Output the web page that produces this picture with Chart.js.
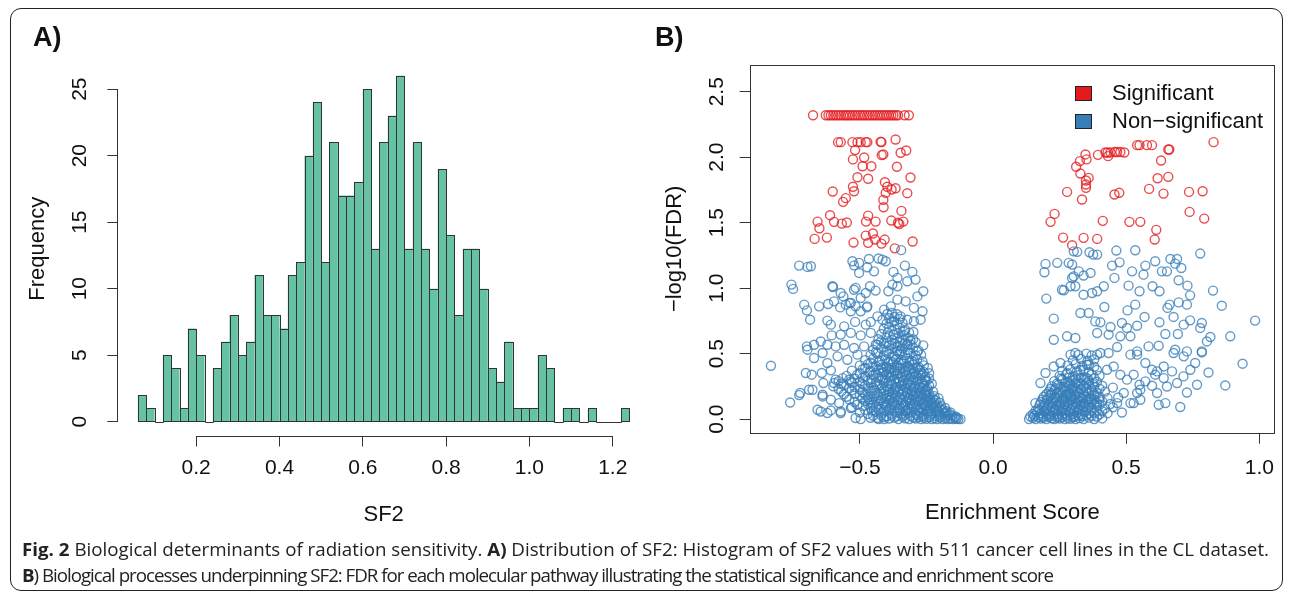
<!DOCTYPE html>
<html><head><meta charset="utf-8">
<script src="https://cdn.jsdelivr.net/npm/chart.js@4.4.1/dist/chart.umd.min.js"></script>
<style>
html,body{margin:0;padding:0;background:#fff;}
body{width:1290px;height:597px;position:relative;overflow:hidden;font-family:"Liberation Sans",Arial,sans-serif;}
#frame{position:absolute;left:10px;top:8px;width:1273px;height:583px;border:1.5px solid #222;border-radius:11px;box-sizing:border-box;}
canvas{position:absolute;top:0;}
#cA{left:0;} #cB{left:660px;}
.plabel{position:absolute;font-weight:bold;font-size:27px;line-height:27px;color:#111;top:24px;}
.leg{position:absolute;font-size:22px;line-height:22px;color:#111;left:1112px;}
.sq{position:absolute;left:1075px;width:17px;height:15px;box-sizing:border-box;border:1px solid #222;}
.cap{position:absolute;left:22px;font-family:"Open Sans",sans-serif;font-size:18px;line-height:20px;white-space:nowrap;transform-origin:0 50%;color:#222;}
</style></head>
<body>
<div id="frame"></div>
<canvas id="cA" width="660" height="597"></canvas>
<canvas id="cB" width="630" height="597"></canvas>
<div class="plabel" style="left:33px">A)</div>
<div class="plabel" style="left:655px">B)</div>
<div class="sq" style="top:86px;background:#E41A1C"></div>
<div class="leg" style="top:82px">Significant</div>
<div class="sq" style="top:114px;background:#377EB8"></div>
<div class="leg" style="top:110px">Non&#8722;significant</div>
<div class="cap" id="cap1" style="top:539px"><b>Fig. 2</b> Biological determinants of radiation sensitivity. <b>A)</b> Distribution of SF2: Histogram of SF2 values with 511 cancer cell lines in the CL dataset.</div>
<div class="cap" id="cap2" style="top:565px"><b>B</b>) Biological processes underpinning SF2: FDR for each molecular pathway illustrating the statistical significance and enrichment score</div>
<script>
// ---------- Histogram (panel A) ----------
const histBinWidth = 0.02;
const histBins = [0.06,0.08,0.10,0.12,0.14,0.16,0.18,0.20,0.22,0.24,0.26,0.28,0.30,0.32,0.34,0.36,0.38,0.40,0.42,0.44,0.46,0.48,0.50,0.52,0.54,0.56,0.58,0.60,0.62,0.64,0.66,0.68,0.70,0.72,0.74,0.76,0.78,0.80,0.82,0.84,0.86,0.88,0.90,0.92,0.94,0.96,0.98,1.00,1.02,1.04,1.06,1.08,1.10,1.12,1.14,1.16,1.18,1.20,1.22];
const histCounts = [2,1,0,5,4,1,7,5,0,4,6,8,5,6,11,8,8,7,11,12,20,24,12,21,17,17,18,25,13,21,23,26,13,21,13,10,19,14,8,13,13,10,4,3,6,1,1,1,5,4,0,1,1,0,1,0,0,0,1];
const histXTicks = [0.2,0.4,0.6,0.8,1.0,1.2];
const histXLabels = ['0.2','0.4','0.6','0.8','1.0','1.2'];
const histYTicks = [0,5,10,15,20,25];
const histYLabels = ['0','5','10','15','20','25'];

// ---------- Scatter (panel B) ----------
const sigPoints = [
[-0.676,2.32],[-0.628,2.32],[-0.618,2.32],[-0.609,2.32],[-0.600,2.32],[-0.590,2.32],[-0.581,2.32],[-0.572,2.32],[-0.562,2.32],[-0.553,2.32],[-0.545,2.32],[-0.537,2.32],[-0.527,2.32],[-0.518,2.32],[-0.508,2.32],[-0.499,2.32],[-0.490,2.32],[-0.482,2.32],[-0.472,2.32],[-0.463,2.32],[-0.453,2.32],[-0.444,2.32],[-0.435,2.32],[-0.426,2.32],[-0.417,2.32],[-0.409,2.32],[-0.400,2.32],[-0.391,2.32],[-0.382,2.32],[-0.374,2.32],[-0.365,2.32],[-0.357,2.32],[-0.332,2.32],[-0.316,2.32],
[-0.582,2.115],[-0.572,2.115],[-0.528,2.115],[-0.509,2.115],[-0.497,2.115],[-0.478,2.115],[-0.472,2.115],[-0.419,2.115],[-0.422,2.118],[-0.366,2.135],
[-0.518,2.054],[-0.526,1.983],[-0.484,1.998],[-0.412,2.021],[-0.418,2.016],[-0.347,2.034],[-0.326,2.051],[-0.490,1.931],[-0.457,1.931],[-0.361,1.927],[-0.509,1.847],[-0.469,1.835],[-0.310,1.845],[-0.602,1.738],[-0.526,1.774],[-0.522,1.740],[-0.406,1.809],[-0.397,1.774],[-0.381,1.753],[-0.366,1.763],[-0.403,1.728],[-0.322,1.725],[-0.553,1.687],[-0.563,1.659],[-0.412,1.674],[-0.411,1.618],[-0.344,1.590],[-0.612,1.557],[-0.659,1.508],[-0.652,1.457],[-0.597,1.506],[-0.568,1.493],[-0.549,1.501],[-0.469,1.554],[-0.477,1.508],[-0.441,1.508],[-0.382,1.516],[-0.357,1.499],[-0.337,1.508],[-0.352,1.49],[-0.670,1.376],[-0.624,1.386],[-0.524,1.348],[-0.478,1.401],[-0.469,1.346],[-0.451,1.417],[-0.443,1.371],[-0.419,1.340],[-0.407,1.371],[-0.369,1.304],[-0.302,1.356],
[0.828,2.115],[0.541,2.092],[0.550,2.092],[0.578,2.092],[0.597,2.092],[0.658,2.059],[0.662,2.059],[0.422,2.036],[0.430,2.036],[0.441,2.036],[0.457,2.040],[0.466,2.040],[0.478,2.040],[0.493,2.036],[0.394,2.018],[0.432,2.008],[0.347,2.021],[0.351,1.983],[0.326,1.970],[0.312,1.927],[0.328,1.875],[0.359,1.842],[0.349,1.822],[0.349,1.791],[0.349,1.766],[0.278,1.735],[0.334,1.677],[0.456,1.715],[0.474,1.728],[0.586,1.758],[0.640,1.722],[0.631,1.975],[0.618,1.839],[0.658,1.850],[0.736,1.735],[0.787,1.740],[0.231,1.567],[0.216,1.506],[0.412,1.514],[0.512,1.506],[0.553,1.506],[0.738,1.582],[0.793,1.531],[0.613,1.445],[0.607,1.371],[0.263,1.386],[0.340,1.384],[0.391,1.376],[0.297,1.328]
];
const nonLeftSparse = [
[-0.728,1.172],[-0.697,1.162],[-0.684,1.167],[-0.757,1.027],[-0.751,0.994],[-0.601,1.009],[-0.528,1.205],[-0.522,1.174],[-0.503,1.193],[-0.466,1.223],[-0.430,1.226],[-0.415,1.218],[-0.403,1.205],[-0.503,1.116],[-0.472,1.159],[-0.447,1.128],[-0.374,1.124],[-0.331,1.172],[-0.303,1.124],[-0.359,1.078],[-0.378,1.027],[-0.291,1.065],[-0.359,1.014],[-0.393,0.976],[-0.322,1.052],[-0.516,1.002],[-0.462,1.014],[-0.441,0.981],[-0.262,0.976],[-0.284,0.937],[-0.562,0.937],[-0.534,0.887],[-0.497,0.925],[-0.478,0.963],[-0.709,0.874],[-0.699,0.830],[-0.687,0.759],[-0.619,0.879],[-0.597,0.899],[-0.574,0.853],[-0.553,0.874],[-0.539,0.887],[-0.534,0.823],[-0.497,0.823],[-0.474,0.853],[-0.359,0.912],[-0.328,0.899],[-0.297,0.849],[-0.265,0.823],[-0.384,0.861],[-0.409,0.836],[-0.622,0.752],[-0.609,0.721],[-0.559,0.708],[-0.518,0.742],[-0.478,0.721],[-0.459,0.742],[-0.434,0.784],[-0.415,0.759],[-0.397,0.803],[-0.372,0.747],[-0.347,0.784],[-0.322,0.759],[-0.297,0.747],[-0.272,0.759],[-0.606,0.639],[-0.572,0.645],[-0.534,0.658],[-0.497,0.639],[-0.459,0.658],[-0.372,0.645],[-0.334,0.670],[-0.299,0.665],[-0.262,0.563],[-0.699,0.555],[-0.672,0.568],[-0.647,0.593],[-0.622,0.568],[-0.591,0.555],[-0.559,0.568],[-0.522,0.543],[-0.484,0.555],[-0.434,0.568],[-0.397,0.581],[-0.359,0.555],[-0.322,0.568],[-0.284,0.517],[-0.347,0.517],[-0.345,1.29],
[-0.834,0.407],[-0.672,0.466],[-0.640,0.505],[-0.622,0.428],[-0.584,0.479],[-0.547,0.453],[-0.509,0.492],[-0.681,0.339],[-0.643,0.352],[-0.609,0.372],[-0.637,0.275],[-0.591,0.301],[-0.565,0.313],[-0.534,0.287],[-0.724,0.199],[-0.728,0.183],[-0.762,0.127],[-0.678,0.224],[-0.640,0.186],[-0.609,0.148],[-0.578,0.122],[-0.647,0.058],[-0.609,0.066],[-0.572,0.046],[-0.534,0.084],[-0.516,0.008],[-0.497,0.0],[-0.434,0.008],[-0.409,0.0],
[-0.697,0.530],[-0.703,0.352],[-0.691,0.224],[-0.659,0.071],[-0.640,0.173],[-0.622,0.046],[-0.597,0.275],[-0.572,0.058],[-0.653,0.861],[-0.603,1.014],[-0.572,0.963],[-0.522,0.988],[-0.516,0.861],[-0.472,0.861]
];
const nonLeftCore = [
[-0.46,0.01],[-0.43,0.0],[-0.41,0.015],[-0.39,0.004],[-0.37,0.012],[-0.355,0.0],[-0.34,0.018],[-0.33,0.006],[-0.315,0.0],[-0.30,0.012],[-0.29,0.004],[-0.28,0.016],[-0.27,0.0],[-0.26,0.009],[-0.25,0.002],[-0.24,0.014],[-0.23,0.0],[-0.22,0.007],[-0.21,0.0],[-0.20,0.011],[-0.19,0.0],[-0.18,0.005],[-0.17,0.0],[-0.16,0.004],[-0.15,0.0],[-0.14,0.002],[-0.13,0.0],[-0.122,0.0],
[-0.50,0.05],[-0.47,0.04],[-0.44,0.055],[-0.42,0.045],[-0.40,0.06],[-0.38,0.04],[-0.36,0.052],[-0.345,0.038],[-0.33,0.06],[-0.32,0.045],[-0.305,0.055],[-0.29,0.04],[-0.275,0.05],[-0.26,0.035],[-0.245,0.055],[-0.23,0.042],[-0.215,0.05],[-0.20,0.036],[-0.185,0.045],[-0.17,0.03],[-0.155,0.028],[-0.14,0.02],
[-0.53,0.09],[-0.49,0.1],[-0.46,0.085],[-0.44,0.095],[-0.42,0.08],[-0.40,0.1],[-0.385,0.09],[-0.37,0.105],[-0.35,0.085],[-0.335,0.095],[-0.32,0.08],[-0.305,0.1],[-0.29,0.09],[-0.27,0.085],[-0.255,0.1],[-0.24,0.08],[-0.225,0.09],[-0.21,0.075],[-0.19,0.07],[-0.175,0.06],[-0.16,0.05],
[-0.52,0.13],[-0.48,0.14],[-0.455,0.125],[-0.43,0.135],[-0.41,0.12],[-0.39,0.14],[-0.375,0.13],[-0.36,0.145],[-0.34,0.125],[-0.325,0.135],[-0.31,0.12],[-0.295,0.14],[-0.28,0.13],[-0.26,0.125],[-0.245,0.135],[-0.23,0.115],[-0.21,0.105],[-0.195,0.1],[-0.18,0.085],
[-0.55,0.17],[-0.50,0.18],[-0.47,0.165],[-0.445,0.175],[-0.42,0.16],[-0.40,0.18],[-0.38,0.17],[-0.365,0.185],[-0.35,0.165],[-0.33,0.175],[-0.315,0.16],[-0.30,0.18],[-0.28,0.17],[-0.265,0.16],[-0.25,0.175],[-0.235,0.15],[-0.215,0.14],[-0.20,0.125],
[-0.57,0.21],[-0.53,0.22],[-0.49,0.205],[-0.46,0.215],[-0.435,0.2],[-0.41,0.22],[-0.39,0.21],[-0.37,0.225],[-0.355,0.205],[-0.34,0.215],[-0.32,0.2],[-0.305,0.22],[-0.29,0.21],[-0.27,0.2],[-0.255,0.215],[-0.24,0.19],[-0.22,0.175],[-0.205,0.16],
[-0.60,0.25],[-0.56,0.26],[-0.52,0.245],[-0.48,0.255],[-0.45,0.24],[-0.425,0.26],[-0.40,0.25],[-0.38,0.265],[-0.36,0.245],[-0.345,0.255],[-0.33,0.24],[-0.31,0.26],[-0.295,0.25],[-0.275,0.24],[-0.26,0.255],[-0.245,0.23],[-0.225,0.21],
[-0.58,0.29],[-0.54,0.3],[-0.50,0.285],[-0.47,0.295],[-0.44,0.28],[-0.415,0.3],[-0.39,0.29],[-0.37,0.305],[-0.35,0.285],[-0.335,0.295],[-0.32,0.28],[-0.30,0.3],[-0.285,0.29],[-0.265,0.28],[-0.25,0.295],[-0.23,0.27],
[-0.55,0.33],[-0.51,0.34],[-0.48,0.325],[-0.45,0.335],[-0.42,0.32],[-0.40,0.34],[-0.38,0.33],[-0.36,0.345],[-0.345,0.325],[-0.325,0.335],[-0.31,0.32],[-0.29,0.34],[-0.27,0.33],[-0.255,0.32],[-0.24,0.31],
[-0.53,0.37],[-0.49,0.38],[-0.46,0.365],[-0.43,0.375],[-0.41,0.36],[-0.39,0.38],[-0.37,0.37],[-0.35,0.385],[-0.33,0.365],[-0.315,0.375],[-0.295,0.36],[-0.275,0.375],[-0.26,0.36],[-0.24,0.35],
[-0.50,0.41],[-0.47,0.42],[-0.44,0.405],[-0.42,0.415],[-0.40,0.4],[-0.38,0.42],[-0.36,0.41],[-0.34,0.425],[-0.32,0.405],[-0.30,0.415],[-0.28,0.4],[-0.26,0.41],[-0.245,0.39],
[-0.48,0.45],[-0.45,0.46],[-0.425,0.445],[-0.405,0.455],[-0.385,0.44],[-0.365,0.46],[-0.345,0.45],[-0.325,0.465],[-0.305,0.445],[-0.285,0.455],[-0.265,0.44],
[-0.46,0.49],[-0.435,0.5],[-0.41,0.485],[-0.39,0.495],[-0.37,0.48],[-0.35,0.5],[-0.33,0.49],[-0.31,0.505],[-0.29,0.485],[-0.27,0.49],
[-0.45,0.53],[-0.42,0.54],[-0.40,0.525],[-0.38,0.535],[-0.36,0.52],[-0.34,0.54],[-0.32,0.53],[-0.30,0.545],[-0.28,0.525],
[-0.44,0.57],[-0.41,0.58],[-0.39,0.565],[-0.37,0.575],[-0.35,0.56],[-0.33,0.58],[-0.31,0.57],[-0.29,0.585],
[-0.43,0.61],[-0.40,0.62],[-0.38,0.605],[-0.36,0.615],[-0.34,0.6],[-0.32,0.62],[-0.30,0.61],
[-0.42,0.65],[-0.395,0.66],[-0.375,0.645],[-0.355,0.655],[-0.335,0.64],[-0.315,0.66],
[-0.41,0.69],[-0.39,0.7],[-0.37,0.685],[-0.35,0.695],[-0.33,0.68],
[-0.40,0.73],[-0.38,0.74],[-0.36,0.725],[-0.34,0.735],
[-0.39,0.77],[-0.37,0.78],[-0.35,0.765],[-0.38,0.81],[-0.36,0.80]
];
const nonLeftFill = [
[-0.45,0.025],[-0.42,0.028],[-0.40,0.022],[-0.38,0.026],[-0.36,0.024],[-0.335,0.03],[-0.31,0.025],[-0.285,0.028],[-0.265,0.022],[-0.235,0.026],[-0.215,0.024],[-0.195,0.02],[-0.175,0.018],[-0.145,0.012],[-0.135,0.008],
[-0.48,0.07],[-0.455,0.065],[-0.43,0.072],[-0.41,0.068],[-0.39,0.075],[-0.37,0.066],[-0.35,0.07],[-0.325,0.064],[-0.31,0.073],[-0.28,0.068],[-0.265,0.072],[-0.25,0.066],[-0.235,0.062],[-0.205,0.058],[-0.18,0.05],[-0.165,0.04],
[-0.51,0.11],[-0.47,0.115],[-0.45,0.108],[-0.43,0.112],[-0.405,0.11],[-0.38,0.115],[-0.36,0.108],[-0.345,0.112],[-0.33,0.11],[-0.30,0.115],[-0.285,0.108],[-0.265,0.11],[-0.25,0.105],[-0.235,0.1],[-0.215,0.09],[-0.20,0.085],
[-0.54,0.15],[-0.49,0.155],[-0.465,0.148],[-0.44,0.152],[-0.42,0.145],[-0.40,0.155],[-0.385,0.15],[-0.37,0.158],[-0.345,0.148],[-0.32,0.152],[-0.305,0.15],[-0.29,0.155],[-0.27,0.145],[-0.255,0.15],[-0.24,0.14],[-0.22,0.125],
[-0.56,0.19],[-0.52,0.195],[-0.48,0.19],[-0.455,0.195],[-0.43,0.185],[-0.41,0.195],[-0.39,0.19],[-0.375,0.198],[-0.34,0.19],[-0.325,0.195],[-0.31,0.188],[-0.29,0.195],[-0.27,0.185],[-0.255,0.19],[-0.245,0.175],[-0.225,0.16],
[-0.58,0.23],[-0.54,0.235],[-0.50,0.228],[-0.47,0.235],[-0.445,0.225],[-0.42,0.235],[-0.395,0.23],[-0.365,0.238],[-0.35,0.228],[-0.325,0.232],[-0.30,0.235],[-0.28,0.228],[-0.265,0.235],[-0.25,0.22],
[-0.57,0.27],[-0.53,0.275],[-0.49,0.268],[-0.46,0.275],[-0.435,0.265],[-0.41,0.275],[-0.385,0.27],[-0.365,0.278],[-0.34,0.268],[-0.32,0.272],[-0.305,0.275],[-0.28,0.265],[-0.26,0.27],[-0.24,0.255],
[-0.52,0.31],[-0.49,0.315],[-0.455,0.308],[-0.43,0.315],[-0.405,0.31],[-0.385,0.318],[-0.36,0.31],[-0.34,0.315],[-0.315,0.305],[-0.295,0.315],[-0.275,0.308],[-0.255,0.30],
[-0.50,0.35],[-0.465,0.355],[-0.44,0.35],[-0.415,0.355],[-0.39,0.35],[-0.37,0.355],[-0.35,0.348],[-0.33,0.355],[-0.305,0.35],[-0.28,0.35],[-0.265,0.345],
[-0.48,0.39],[-0.45,0.395],[-0.42,0.39],[-0.40,0.392],[-0.38,0.39],[-0.36,0.396],[-0.34,0.39],[-0.32,0.394],[-0.30,0.388],[-0.285,0.39],
[-0.46,0.43],[-0.43,0.435],[-0.395,0.43],[-0.375,0.435],[-0.355,0.43],[-0.335,0.44],[-0.315,0.43],[-0.295,0.435],[-0.44,0.51],[-0.40,0.51],[-0.36,0.515],[-0.32,0.51],[-0.42,0.595],[-0.35,0.59],[-0.31,0.60]
];
const nonRightSparse = [
[0.303,1.281],[0.316,1.277],[0.362,1.274],[0.376,1.256],[0.391,1.256],[0.463,1.287],[0.534,1.289],[0.778,1.264],
[0.197,1.185],[0.193,1.121],[0.241,1.193],[0.297,1.180],[0.322,1.128],[0.340,1.096],[0.366,1.116],[0.447,1.172],[0.475,1.197],[0.522,1.128],[0.565,1.103],[0.572,1.172],[0.609,1.205],[0.634,1.128],[0.653,1.128],[0.666,1.223],[0.691,1.223],[0.684,1.187],[0.707,1.154],
[0.297,1.078],[0.291,1.014],[0.266,0.983],[0.309,1.014],[0.340,0.950],[0.372,0.963],[0.391,0.976],[0.416,1.014],[0.456,1.078],[0.509,1.019],[0.550,0.976],[0.599,1.014],[0.625,0.976],[0.697,1.060],[0.730,1.019],[0.740,0.945],[0.826,0.981],[0.259,0.988],[0.303,1.09],[0.284,1.193],
[0.200,0.920],[0.228,0.767],[0.328,0.810],[0.359,0.810],[0.418,0.856],[0.505,0.830],[0.534,0.874],[0.569,0.780],[0.655,0.849],[0.663,0.874],[0.697,0.891],[0.728,0.874],[0.859,0.866],[0.984,0.752],
[0.384,0.746],[0.403,0.739],[0.441,0.703],[0.484,0.734],[0.503,0.696],[0.541,0.713],[0.625,0.739],[0.678,0.780],[0.716,0.721],[0.740,0.754],[0.784,0.734],[0.778,0.696],[0.694,0.650],[0.647,0.650],[0.816,0.627],[0.891,0.632],
[0.228,0.606],[0.278,0.632],[0.309,0.619],[0.391,0.657],[0.434,0.645],[0.478,0.632],[0.516,0.632],[0.466,0.550],[0.541,0.517],[0.584,0.555],[0.622,0.560],[0.684,0.530],[0.728,0.517],[0.784,0.517],[0.803,0.593],
[0.937,0.423],[0.872,0.257],[0.809,0.356],[0.784,0.509],[0.759,0.428],[0.741,0.377],[0.715,0.326],[0.691,0.275],[0.653,0.249],[0.616,0.199],[0.647,0.122],[0.703,0.092],[0.622,0.109],[0.728,0.203],[0.766,0.262],[0.678,0.505],[0.716,0.479],
[0.672,0.364],[0.641,0.313],[0.609,0.339],[0.597,0.255],[0.572,0.288],[0.550,0.262],[0.541,0.199],[0.516,0.122],[0.484,0.050],
[0.291,0.492],[0.309,0.505],[0.391,0.492],[0.403,0.505],[0.434,0.505],[0.516,0.492],[0.541,0.492],[0.572,0.428],[0.597,0.377],[0.616,0.364],[0.641,0.402],
[0.197,0.352],[0.178,0.275],[0.159,0.122],[0.228,0.402],[0.253,0.428],[0.278,0.352],[0.328,0.377],[0.353,0.415],[0.428,0.377],[0.453,0.402],[0.478,0.339],[0.503,0.301],[0.528,0.339],[0.553,0.224],[0.491,0.199],[0.466,0.122],[0.528,0.122],[0.553,0.148]
];
const nonRightCore = [
[0.135,0.0],[0.15,0.01],[0.16,0.0],[0.17,0.015],[0.18,0.004],[0.19,0.012],[0.20,0.0],[0.21,0.018],[0.22,0.006],[0.23,0.0],[0.24,0.012],[0.25,0.004],[0.26,0.016],[0.27,0.0],[0.28,0.009],[0.29,0.002],[0.30,0.014],[0.31,0.0],[0.325,0.007],[0.34,0.0],[0.36,0.011],[0.38,0.0],[0.41,0.005],
[0.15,0.04],[0.165,0.055],[0.18,0.045],[0.195,0.06],[0.21,0.04],[0.225,0.052],[0.24,0.038],[0.255,0.06],[0.27,0.045],[0.285,0.055],[0.30,0.04],[0.315,0.05],[0.33,0.035],[0.345,0.055],[0.36,0.042],[0.38,0.05],[0.40,0.036],[0.43,0.045],
[0.17,0.08],[0.19,0.1],[0.205,0.085],[0.22,0.095],[0.235,0.08],[0.25,0.1],[0.265,0.09],[0.28,0.105],[0.295,0.085],[0.31,0.095],[0.325,0.08],[0.34,0.1],[0.355,0.09],[0.37,0.085],[0.39,0.1],[0.42,0.08],[0.45,0.09],
[0.18,0.13],[0.20,0.14],[0.22,0.125],[0.235,0.135],[0.25,0.12],[0.265,0.14],[0.28,0.13],[0.295,0.145],[0.31,0.125],[0.325,0.135],[0.34,0.12],[0.355,0.14],[0.37,0.13],[0.39,0.125],[0.41,0.135],[0.44,0.115],
[0.19,0.17],[0.215,0.18],[0.235,0.165],[0.25,0.175],[0.265,0.16],[0.28,0.18],[0.295,0.17],[0.31,0.185],[0.325,0.165],[0.34,0.175],[0.36,0.16],[0.38,0.18],[0.40,0.17],[0.43,0.16],[0.47,0.165],
[0.21,0.21],[0.23,0.22],[0.25,0.205],[0.27,0.215],[0.285,0.2],[0.30,0.22],[0.315,0.21],[0.33,0.225],[0.35,0.205],[0.37,0.215],[0.39,0.2],[0.42,0.21],
[0.22,0.25],[0.245,0.26],[0.265,0.245],[0.285,0.255],[0.30,0.24],[0.32,0.26],[0.34,0.25],[0.36,0.265],[0.38,0.245],[0.41,0.255],[0.45,0.24],
[0.23,0.29],[0.26,0.3],[0.28,0.285],[0.30,0.295],[0.32,0.28],[0.34,0.3],[0.36,0.29],[0.39,0.285],
[0.25,0.33],[0.275,0.34],[0.30,0.325],[0.32,0.335],[0.345,0.32],[0.37,0.34],[0.40,0.33],
[0.26,0.37],[0.29,0.38],[0.315,0.365],[0.34,0.375],[0.36,0.36],[0.39,0.375],
[0.28,0.41],[0.31,0.42],[0.335,0.405],[0.36,0.415],[0.38,0.4],
[0.30,0.45],[0.33,0.46],[0.355,0.445],[0.38,0.455],
[0.32,0.49],[0.35,0.5],[0.37,0.485]
];
const nonRightFill = [
[0.14,0.02],[0.155,0.025],[0.175,0.028],[0.185,0.022],[0.20,0.03],[0.215,0.025],[0.23,0.028],[0.245,0.022],[0.26,0.03],[0.275,0.025],[0.29,0.028],[0.305,0.02],[0.32,0.026],[0.335,0.022],[0.35,0.028],[0.37,0.025],[0.39,0.02],
[0.16,0.065],[0.175,0.07],[0.19,0.062],[0.20,0.072],[0.215,0.066],[0.23,0.072],[0.245,0.065],[0.26,0.074],[0.275,0.066],[0.29,0.07],[0.305,0.064],[0.32,0.072],[0.335,0.066],[0.35,0.07],[0.37,0.062],[0.39,0.068],[0.41,0.06],
[0.175,0.11],[0.195,0.115],[0.21,0.108],[0.225,0.114],[0.24,0.108],[0.255,0.116],[0.27,0.11],[0.285,0.118],[0.30,0.11],[0.315,0.115],[0.33,0.108],[0.345,0.116],[0.36,0.11],[0.38,0.112],[0.40,0.108],
[0.185,0.15],[0.205,0.155],[0.225,0.148],[0.24,0.155],[0.26,0.15],[0.275,0.158],[0.29,0.15],[0.305,0.156],[0.32,0.148],[0.335,0.155],[0.35,0.15],[0.365,0.155],[0.38,0.148],[0.40,0.152],
[0.20,0.19],[0.22,0.195],[0.24,0.19],[0.26,0.196],[0.275,0.19],[0.29,0.195],[0.305,0.19],[0.32,0.198],[0.34,0.19],[0.36,0.195],[0.38,0.19],
[0.215,0.23],[0.235,0.235],[0.255,0.228],[0.275,0.235],[0.295,0.23],[0.31,0.236],[0.33,0.23],[0.35,0.235],[0.37,0.228],[0.40,0.232],
[0.24,0.27],[0.27,0.275],[0.29,0.268],[0.31,0.275],[0.33,0.27],[0.35,0.275],[0.375,0.268],[0.255,0.31],[0.285,0.315],[0.31,0.308],[0.33,0.315],[0.355,0.31],[0.38,0.312]
];
const scatXTicks = [-0.5,0,0.5,1.0];
const scatXLabels = ['\u22120.5','0.0','0.5','1.0'];
const scatYTicks = [0,0.5,1.0,1.5,2.0,2.5];
const scatYLabels = ['0.0','0.5','1.0','1.5','2.0','2.5'];

const FONT = '"Liberation Sans", Arial, sans-serif';
const AX = '#333';
const TXT = '#111';

function setTicks(arr){ return s => { s.ticks = arr.map(v => ({value: v})); }; }

// ---------- Chart A ----------
const histPlugin = {
  id: 'histR',
  afterDatasetsDraw(chart){
    const ctx = chart.ctx, meta = chart.getDatasetMeta(0);
    ctx.save();
    ctx.strokeStyle = '#333'; ctx.lineWidth = 1;
    meta.data.forEach(el => {
      const p = el.getProps(['x','y','base','width'], true);
      const l = Math.round(p.x - p.width/2) + 0.5, r = Math.round(p.x + p.width/2) + 0.5;
      const t = Math.round(p.y) + 0.5, b = Math.round(p.base) + 0.5;
      ctx.strokeRect(l, t, r - l, b - t);
    });
    ctx.restore();
  },
  afterDraw(chart){
    const ctx = chart.ctx, xs = chart.scales.x, ys = chart.scales.y, a = chart.chartArea;
    ctx.save(); ctx.strokeStyle = AX; ctx.lineWidth = 1;
    ctx.beginPath();
    const by = Math.round(a.bottom) + 0.5, lx = Math.round(a.left) - 0.5;
    ctx.moveTo(xs.getPixelForValue(histXTicks[0]), by); ctx.lineTo(xs.getPixelForValue(histXTicks[histXTicks.length-1]), by);
    ctx.moveTo(lx, ys.getPixelForValue(histYTicks[0])); ctx.lineTo(lx, ys.getPixelForValue(histYTicks[histYTicks.length-1]));
    ctx.stroke(); ctx.restore();
  }
};
new Chart(document.getElementById('cA'), {
  type: 'bar',
  data: { datasets: [{
    data: histBins.map((b, i) => ({x: b + histBinWidth/2, y: histCounts[i]})),
    backgroundColor: '#66C2A5', borderWidth: 0, inflateAmount: 0,
    barPercentage: 1, categoryPercentage: 1
  }]},
  options: {
    responsive: false, animation: false, events: [],
    layout: { padding: {left: 0, right: 11, top: 62, bottom: 0} },
    plugins: { legend: {display: false}, tooltip: {enabled: false} },
    scales: {
      x: { type: 'linear', min: 0.013, max: 1.287, offset: false,
        grid: {offset: false, drawOnChartArea: false, drawTicks: true, tickLength: 11, color: AX, tickColor: AX, tickWidth: 1},
        border: {display: false},
        afterBuildTicks: setTicks(histXTicks),
        ticks: {autoSkip: false, maxRotation: 0, minRotation: 0, padding: 9, color: TXT, font: {family: FONT, size: 21},
          callback: (v, i) => histXLabels[i]},
        title: {display: true, text: 'SF2', color: TXT, font: {family: FONT, size: 22}, padding: {top: 0, bottom: 68.8}},
        afterFit: s => { s.height = 161.5; }
      },
      y: { type: 'linear', min: -1.04, max: 27.04,
        grid: {drawOnChartArea: false, drawTicks: true, tickLength: 11, color: AX, tickColor: AX, tickWidth: 1},
        border: {display: false},
        afterBuildTicks: setTicks(histYTicks),
        ticks: {autoSkip: false, minRotation: 90, maxRotation: 90, crossAlign: 'center', padding: 15, color: TXT, font: {family: FONT, size: 21},
          callback: (v, i) => histYLabels[i]},
        title: {display: true, text: 'Frequency', color: TXT, font: {family: FONT, size: 22}, padding: {top: 24.8, bottom: 0}},
        afterFit: s => { s.width = 118.3; }
      }
    }
  },
  plugins: [histPlugin]
});

// ---------- Chart B ----------
const boxPlugin = {
  id: 'boxR',
  afterDraw(chart){
    const ctx = chart.ctx, a = chart.chartArea;
    ctx.save(); ctx.strokeStyle = AX; ctx.lineWidth = 1;
    ctx.strokeRect(Math.round(a.left) - 0.5, Math.round(a.top) + 0.5, Math.round(a.right - a.left) + 1, Math.round(a.bottom - a.top));
    ctx.restore();
  }
};
const toXY = arr => arr.map(p => ({x: p[0], y: p[1]}));
const blueCol = 'rgba(55,126,184,0.78)';
const redCol = 'rgba(228,26,28,0.78)';
new Chart(document.getElementById('cB'), {
  type: 'scatter',
  data: { datasets: [
    {label: 'Non-significant', data: toXY(nonLeftSparse.concat(nonLeftCore, nonLeftFill, nonRightSparse, nonRightCore, nonRightFill)),
      pointRadius: 4.5, pointBorderWidth: 1.4, pointBackgroundColor: 'rgba(0,0,0,0)', pointBorderColor: blueCol},
    {label: 'Significant', data: toXY(sigPoints),
      pointRadius: 4.5, pointBorderWidth: 1.4, pointBackgroundColor: 'rgba(0,0,0,0)', pointBorderColor: redCol}
  ]},
  options: {
    responsive: false, animation: false, events: [],
    layout: { padding: {left: 0, right: 16, top: 65, bottom: 0} },
    plugins: { legend: {display: false}, tooltip: {enabled: false} },
    scales: {
      x: { type: 'linear', min: -0.91, max: 1.055,
        grid: {drawOnChartArea: false, drawTicks: true, tickLength: 11, color: AX, tickColor: AX, tickWidth: 1},
        border: {display: false},
        afterBuildTicks: setTicks(scatXTicks),
        ticks: {autoSkip: false, maxRotation: 0, minRotation: 0, padding: 11.8, color: TXT, font: {family: FONT, size: 21},
          callback: (v, i) => scatXLabels[i]},
        title: {display: true, text: 'Enrichment Score', color: TXT, font: {family: FONT, size: 22}, padding: {top: 0, bottom: 70.8}},
        afterFit: s => { s.height = 164.3; }
      },
      y: { type: 'linear', min: -0.104, max: 2.704,
        grid: {drawOnChartArea: false, drawTicks: true, tickLength: 11, color: AX, tickColor: AX, tickWidth: 1},
        border: {display: false},
        afterBuildTicks: setTicks(scatYTicks),
        ticks: {autoSkip: false, minRotation: 90, maxRotation: 90, crossAlign: 'center', padding: 8.1, color: TXT, font: {family: FONT, size: 21},
          callback: (v, i) => scatYLabels[i]},
        title: {display: true, text: '\u2212log10(FDR)', color: TXT, font: {family: FONT, size: 22}, padding: {top: 1.8, bottom: 0}},
        afterFit: s => { s.width = 90.7; }
      }
    }
  },
  plugins: [boxPlugin]
});

// ---------- caption width fit: same glyph scale on both lines, spacing tuned per line ----------
function fitCaption(){
  const c1 = document.getElementById('cap1'), c2 = document.getElementById('cap2');
  [c1, c2].forEach(el => { el.style.transform = 'none'; el.style.letterSpacing = '0px'; });
  const w1 = c1.getBoundingClientRect().width;
  const s = 1247 / w1;
  c1.style.transform = 'scaleX(' + s + ')';
  const w2 = c2.getBoundingClientRect().width;
  const n2 = c2.textContent.length;
  const ls = (1031 / s - w2) / n2;
  c2.style.letterSpacing = ls + 'px';
  c2.style.transform = 'scaleX(' + s + ')';
}
fitCaption();
if (document.fonts && document.fonts.ready) document.fonts.ready.then(fitCaption);
</script>
</body></html>
